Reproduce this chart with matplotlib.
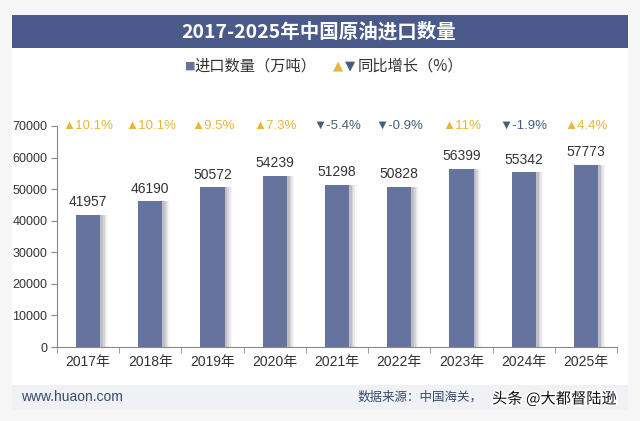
import matplotlib
matplotlib.use("Agg")
import matplotlib.pyplot as plt
from matplotlib.patches import Rectangle
import matplotlib.patheffects as pe

plt.rcParams['font.family'] = ['Liberation Sans', 'Noto Sans CJK SC', 'DejaVu Sans']

years = ["2017年", "2018年", "2019年", "2020年", "2021年", "2022年", "2023年", "2024年", "2025年"]
imports = [41957, 46190, 50572, 54239, 51298, 50828, 56399, 55342, 57773]
growth = ["10.1%", "10.1%", "9.5%", "7.3%", "-5.4%", "-0.9%", "11%", "-1.9%", "4.4%"]
growth_up = [True, True, True, True, False, False, True, False, True]
yticks = [0, 10000, 20000, 30000, 40000, 50000, 60000, 70000]

W, H = 640, 421
BAR = "#66739f"
UP = "#e8b73a"
DOWN = "#44607e"
TXT = "#333333"

fig = plt.figure(figsize=(6.4, 4.21), dpi=100)
fig.patch.set_facecolor("#f6f6f6")

def fx(px): return px / W
def fy(py): return 1 - py / H

# card
fig.patches.append(Rectangle((fx(12), fy(410)), fx(616), (410 - 15) / H,
                             transform=fig.transFigure, facecolor="white", edgecolor="none", zorder=-2))
# title bar
fig.patches.append(Rectangle((fx(12), fy(48)), fx(616), 33 / H,
                             transform=fig.transFigure, facecolor="#4a5a8a", edgecolor="none", zorder=-1))
fig.text(fx(319), fy(32), "2017-2025年中国原油进口数量", color="white", fontsize=14,
         fontweight="bold", ha="center", va="center", family=['Noto Sans CJK SC'])
# footer band
fig.patches.append(Rectangle((fx(12), fy(410)), fx(616), 25 / H,
                             transform=fig.transFigure, facecolor="#eff1f5", edgecolor="none", zorder=-1))
fig.text(fx(21), fy(397), "www.huaon.com", color="#3a4a6a", fontsize=10, ha="left", va="center")
fig.text(fx(358), fy(397), "数据来源：中国海关，", color="#3a4a6a", fontsize=9,
         ha="left", va="center", family=['Noto Sans CJK SC'])
fig.text(fx(492), fy(399), "头条 @大都督陆逊", color="#111111", fontsize=11, ha="left", va="center",
         family=['Noto Sans CJK SC'],
         path_effects=[pe.withStroke(linewidth=2.5, foreground="white")])

# legend
fig.text(fx(185), fy(66), "■", color=BAR, fontsize=8, ha="left", va="center", family=['DejaVu Sans'])
fig.text(fx(194), fy(66), "进口数量（万吨）", color=TXT, fontsize=11, ha="left", va="center",
         family=['Noto Sans CJK SC'])
fig.text(fx(333), fy(66), "▲", color=UP, fontsize=9.5, ha="left", va="center", family=['DejaVu Sans'])
fig.text(fx(345), fy(66), "▼", color=DOWN, fontsize=9.5, ha="left", va="center", family=['DejaVu Sans'])
fig.text(fx(358), fy(66), "同比增长（%）", color=TXT, fontsize=11, ha="left", va="center",
         family=['Noto Sans CJK SC'])

ax = fig.add_axes([fx(57), fy(347), (617 - 57) / W, (347 - 126) / H])
ax.set_zorder(2)
ax.set_facecolor("none")
x = list(range(len(years)))

# soft shadow (gradient)
for k, a in enumerate([0.35, 0.25, 0.15, 0.08]):
    off = 0.02 + 0.025 * (k + 1)
    ax.bar([i + off for i in x], imports, width=0.39, color="#9a9aa5", alpha=a,
           zorder=1, linewidth=0)
ax.bar(x, imports, width=0.39, color=BAR, zorder=2, linewidth=0)

for i, v in enumerate(imports):
    ax.annotate(str(v), (i, v), xytext=(0, 4), textcoords="offset points",
                ha="center", va="bottom", fontsize=10, color=TXT)

for i, (g, up) in enumerate(zip(growth, growth_up)):
    sym = "▲" if up else "▼"
    ax.text(i, 70000, sym + g, ha="center", va="center", fontsize=9.5,
            color=UP if up else DOWN, family=['Liberation Sans', 'DejaVu Sans'])

ax.set_xlim(-0.5, len(years) - 0.5)
ax.set_ylim(0, 70000)
ax.set_yticks(yticks)
ax.set_yticklabels([str(t) for t in yticks], fontsize=9, color=TXT)
ax.set_xticks(x)
ax.set_xticklabels(years, fontsize=10, color=TXT)
ax.set_xticks([i - 0.5 for i in range(len(years) + 1)], minor=True)
ax.tick_params(axis="x", which="major", length=0, pad=6)
ax.tick_params(axis="x", which="minor", length=4, color="#888888")
ax.tick_params(axis="y", length=4, color="#888888", pad=3)

for s in ["top", "right"]:
    ax.spines[s].set_visible(False)
for s in ["left", "bottom"]:
    ax.spines[s].set_color("#888888")
    ax.spines[s].set_linewidth(0.8)

fig.savefig("out.png", dpi=100, facecolor=fig.get_facecolor())
